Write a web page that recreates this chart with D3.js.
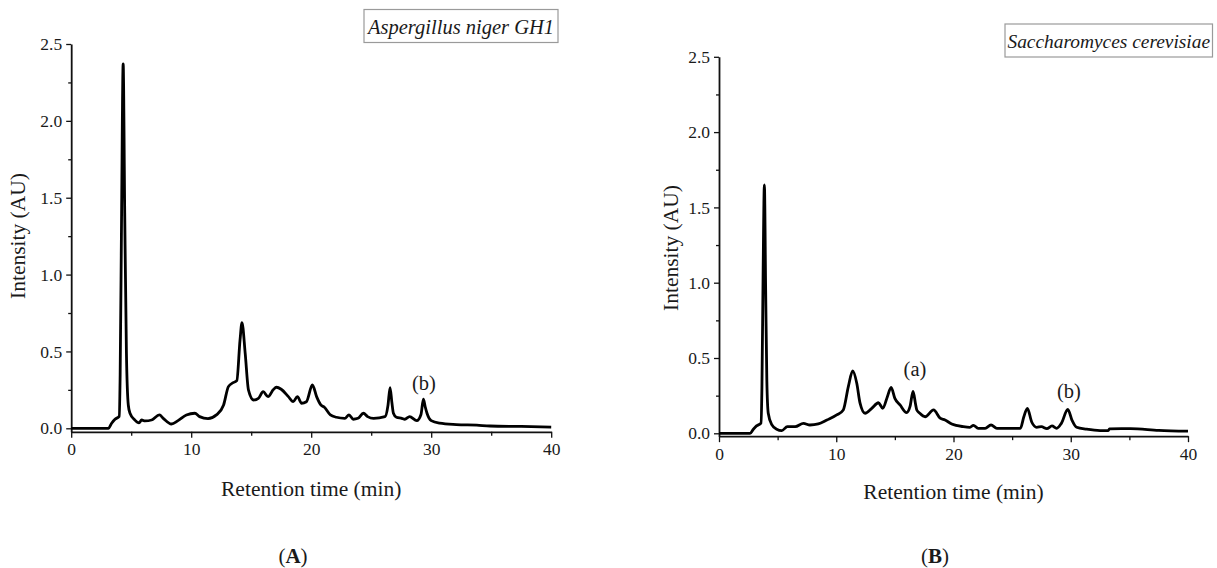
<!DOCTYPE html>
<html>
<head>
<meta charset="utf-8">
<script src="https://cdn.jsdelivr.net/npm/d3@7"></script>
<style>
  html, body { margin: 0; padding: 0; background: #fff; }
  svg { display: block; }
  text { font-family: "Liberation Serif", "DejaVu Serif", serif; fill: #1a1a1a; }
</style>
</head>
<body>
<svg id="chart" width="1217" height="568"></svg>
<script>
// ---------------- data ----------------
const timeA = [0, 3.1, 3.37, 3.65, 4.0, 4.08, 4.2, 4.33, 4.46, 4.6, 4.76, 4.9, 5.3, 5.65, 5.87, 6.15, 6.7, 7.35, 7.67, 8.35, 8.9, 9.6, 10.3, 10.7, 11.4, 12.1, 12.7, 13.1, 13.5, 13.8, 14.07, 14.23, 14.5, 14.77, 15.2, 15.6, 16.0, 16.4, 16.85, 17.1, 17.5, 18.1, 18.5, 18.85, 19.2, 19.6, 20.1, 20.45, 20.8, 21.1, 21.6, 22.1, 22.8, 23.15, 23.5, 23.9, 24.35, 24.7, 25.2, 26.15, 26.4, 26.57, 26.72, 26.85, 27.1, 27.55, 27.8, 28.2, 28.8, 29.15, 29.35, 29.5, 29.65, 30.0, 30.7, 32.1, 33.8, 34.9, 37.5, 40];
const intensityA = [0, 0, 0.033, 0.059, 0.078, 0.35, 1.4, 2.37, 1.4, 0.5, 0.15, 0.098, 0.054, 0.035, 0.054, 0.048, 0.054, 0.087, 0.065, 0.028, 0.05, 0.087, 0.098, 0.076, 0.063, 0.087, 0.152, 0.271, 0.297, 0.31, 0.575, 0.688, 0.488, 0.25, 0.184, 0.195, 0.238, 0.206, 0.252, 0.267, 0.254, 0.206, 0.173, 0.206, 0.163, 0.173, 0.282, 0.206, 0.152, 0.137, 0.087, 0.072, 0.065, 0.087, 0.059, 0.065, 0.098, 0.076, 0.065, 0.076, 0.15, 0.265, 0.17, 0.098, 0.072, 0.065, 0.059, 0.076, 0.05, 0.09, 0.19, 0.14, 0.098, 0.05, 0.033, 0.024, 0.02, 0.015, 0.012, 0.008];

const timeB = [0, 2.65, 2.93, 3.2, 3.58, 3.66, 3.76, 3.87, 3.98, 4.08, 4.2, 4.5, 4.92, 5.35, 5.83, 6.5, 7.2, 7.76, 8.47, 9.2, 10.04, 10.6, 11.03, 11.4, 11.75, 12.03, 12.46, 13.03, 13.6, 13.97, 14.36, 14.68, 15.0, 15.44, 16.0, 16.3, 16.55, 16.75, 16.87, 17.1, 17.58, 18.3, 18.86, 19.28, 19.85, 20.84, 21.4, 21.7, 22.1, 22.7, 23.2, 23.7, 25.7, 26.0, 26.3, 26.67, 27.1, 27.5, 27.96, 28.4, 28.8, 29.2, 29.75, 30.1, 30.5, 31.35, 32.5, 33.2, 33.3, 35.1, 37.5, 40];
const intensityB = [0, 0, 0.027, 0.049, 0.068, 0.3, 1.05, 1.65, 0.95, 0.35, 0.133, 0.058, 0.027, 0.018, 0.044, 0.044, 0.066, 0.055, 0.062, 0.088, 0.122, 0.155, 0.31, 0.414, 0.332, 0.2, 0.133, 0.166, 0.203, 0.166, 0.243, 0.305, 0.232, 0.188, 0.137, 0.18, 0.278, 0.2, 0.155, 0.135, 0.11, 0.155, 0.1, 0.088, 0.062, 0.044, 0.04, 0.053, 0.033, 0.033, 0.055, 0.033, 0.033, 0.11, 0.166, 0.075, 0.04, 0.044, 0.031, 0.049, 0.033, 0.066, 0.159, 0.088, 0.04, 0.027, 0.018, 0.018, 0.03, 0.031, 0.02, 0.014];

const xMajorTicks = [0, 10, 20, 30, 40];
const xMinorTicks = [5, 15, 25, 35];
const yMajorTicks = [0, 0.5, 1.0, 1.5, 2.0, 2.5];
const yMinorTicks = [0.25, 0.75, 1.25, 1.75, 2.25];

const xTitle = "Retention time (min)";
const yTitle = "Intensity (AU)";
const legendA = "Aspergillus niger GH1";
const legendB = "Saccharomyces cerevisiae";
const panelLetters = ["A", "B"];

const annotationsA = [{ label: "(b)", t: 29.35, v: 0.19 }];
const annotationsB = [{ label: "(a)", t: 16.2, v: 0.34 }, { label: "(b)", t: 29.75, v: 0.159 }];

// ---------------- layout ----------------
const svg = d3.select("#chart");

const panels = [
  {
    time: timeA, inten: intensityA, legend: legendA, letter: panelLetters[0], ann: annotationsA,
    x0: 71.2, x1: 551.2, yZero: 428.3, yTop: 44, yMin: -0.023,
    yTitleX: 18, yTitleY: 236, xTitleY: 496, letterX: 293, letterY: 563,
    legendBox: [364, 9.5, 194, 33], legendSize: 20.5,
    annPos: [[424, 390]]
  },
  {
    time: timeB, inten: intensityB, legend: legendB, letter: panelLetters[1], ann: annotationsB,
    x0: 719, x1: 1188, yZero: 433.3, yTop: 56.8, yMin: -0.019,
    yTitleX: 671, yTitleY: 248, xTitleY: 499, letterX: 935, letterY: 563,
    legendBox: [1005, 24, 207.5, 33], legendSize: 19.4,
    annPos: [[915, 376], [1069, 398]]
  }
];

panels.forEach(p => {
  const g = svg.append("g");
  const k = (p.yZero - p.yTop) / 2.5;
  const x = d3.scaleLinear().domain([0, 40]).range([p.x0, p.x1]);
  const y = d3.scaleLinear().domain([p.yMin, 2.5]).range([p.yZero - p.yMin * k, p.yTop]);
  const yBase = y(p.yMin);

  // x axis
  g.append("g").attr("transform", `translate(0,${yBase})`)
    .call(d3.axisBottom(x).tickValues(xMajorTicks).tickSize(6).tickSizeOuter(0).tickPadding(5).tickFormat(d3.format("d")));
  g.append("g").attr("transform", `translate(0,${yBase})`)
    .call(d3.axisBottom(x).tickValues(xMinorTicks).tickSize(4).tickSizeOuter(0).tickFormat(""))
    .select(".domain").remove();

  // y axis
  g.append("g").attr("transform", `translate(${p.x0},0)`)
    .call(d3.axisLeft(y).tickValues(yMajorTicks).tickSize(5).tickSizeOuter(0).tickPadding(4).tickFormat(d3.format(".1f")));
  g.append("g").attr("transform", `translate(${p.x0},0)`)
    .call(d3.axisLeft(y).tickValues(yMinorTicks).tickSize(3).tickSizeOuter(0).tickFormat(""))
    .select(".domain").remove();

  g.selectAll(".domain").attr("stroke", "#111").attr("stroke-width", 1.8);
  g.selectAll(".tick line").attr("stroke", "#111").attr("stroke-width", 1.3);
  g.selectAll(".tick text").attr("font-size", 17.5).attr("font-family", "Liberation Serif").attr("fill", "#1a1a1a");

  // chromatogram trace
  const data = p.time.map((t, i) => [t, p.inten[i]]);
  const line = d3.line().x(d => x(d[0])).y(d => y(d[1])).curve(d3.curveMonotoneX);
  g.append("path").datum(data)
    .attr("d", line)
    .attr("fill", "none")
    .attr("stroke", "#000")
    .attr("stroke-width", 2.8)
    .attr("stroke-linejoin", "round");

  // axis titles
  g.append("text")
    .attr("x", (p.x0 + p.x1) / 2).attr("y", p.xTitleY)
    .attr("text-anchor", "middle").attr("font-size", 21.5)
    .text(xTitle);
  g.append("text")
    .attr("transform", `translate(${p.yTitleX},${p.yTitleY}) rotate(-90)`)
    .attr("text-anchor", "middle").attr("dominant-baseline", "central").attr("font-size", 21.5)
    .text(yTitle);

  // legend box
  const [bx, by, bw, bh] = p.legendBox;
  g.append("rect").attr("x", bx).attr("y", by).attr("width", bw).attr("height", bh)
    .attr("fill", "#fff").attr("stroke", "#9a9a9a").attr("stroke-width", 1.2);
  g.append("text")
    .attr("x", bx + bw / 2).attr("y", by + bh / 2 + 1)
    .attr("text-anchor", "middle").attr("dominant-baseline", "central")
    .attr("font-style", "italic").attr("font-size", p.legendSize)
    .text(p.legend);

  // peak annotations
  p.ann.forEach((a, i) => {
    g.append("text")
      .attr("x", p.annPos[i][0]).attr("y", p.annPos[i][1])
      .attr("text-anchor", "middle").attr("font-size", 20.5)
      .text(a.label);
  });

  // panel letter
  const lt = g.append("text")
    .attr("x", p.letterX).attr("y", p.letterY)
    .attr("text-anchor", "middle").attr("font-size", 21);
  lt.append("tspan").text("(");
  lt.append("tspan").attr("font-weight", "bold").text(p.letter);
  lt.append("tspan").text(")");
});
</script>
</body>
</html>
